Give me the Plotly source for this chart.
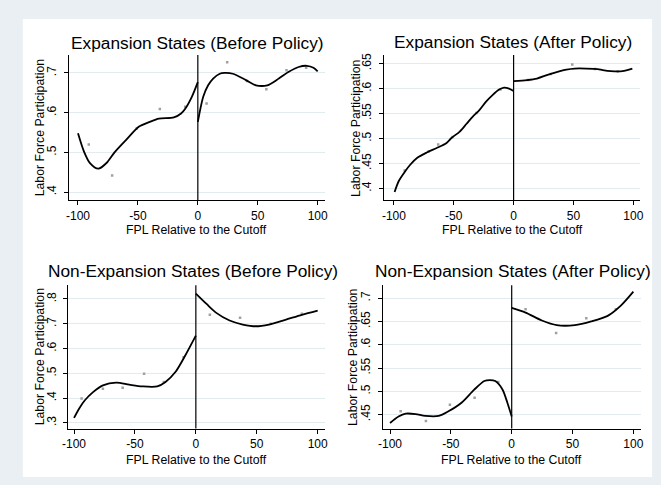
import plotly.graph_objects as go

# ---------------- data ----------------
# Panel 1: Expansion States (Before Policy)
p1_left_x = [-100, -95, -90, -83, -76, -69.5, -60, -49, -40, -32.5, -20, -14, -10.5, -5, 0]
p1_left_y = [0.548, 0.502, 0.473, 0.459, 0.474, 0.500, 0.531, 0.565, 0.577, 0.585, 0.588, 0.598, 0.610, 0.640, 0.677]
p1_right_x = [0, 4.5, 8.6, 12.8, 18.3, 22.4, 29.2, 40.2, 48.4, 58, 67.6, 75.9, 84.1, 91, 96.5, 100]
p1_right_y = [0.577, 0.640, 0.669, 0.686, 0.698, 0.700, 0.698, 0.682, 0.669, 0.669, 0.686, 0.703, 0.715, 0.718, 0.713, 0.704]
p1_dots_x = [-91, -71.5, -51, -31.7, -10.5, 7.3, 24.5, 41, 57.2, 74, 90.4]
p1_dots_y = [0.520, 0.442, 0.560, 0.609, 0.615, 0.623, 0.727, 0.680, 0.659, 0.707, 0.713]

# Panel 2: Expansion States (After Policy)
p2_left_x = [-99.4, -95.9, -90.4, -86.2, -80.7, -72.5, -64.2, -56, -51.9, -45, -39.5, -34.1, -28.6, -23, -17.6, -12.1, -8, -3.8, 0]
p2_left_y = [0.393, 0.415, 0.435, 0.448, 0.461, 0.472, 0.481, 0.491, 0.501, 0.514, 0.529, 0.544, 0.557, 0.574, 0.587, 0.598, 0.602, 0.600, 0.595]
p2_right_x = [0, 11.2, 19.5, 27.7, 36, 44.2, 51.1, 60.7, 70.3, 74.5, 81.3, 90.9, 99.2]
p2_right_y = [0.615, 0.617, 0.620, 0.627, 0.633, 0.638, 0.640, 0.640, 0.639, 0.637, 0.635, 0.635, 0.640]
p2_dots_x = [-91, -71, -63, -51, -31, -11, 12, 31, 49, 68, 87]
p2_dots_y = [0.436, 0.474, 0.488, 0.503, 0.551, 0.598, 0.617, 0.629, 0.648, 0.639, 0.634]

# Panel 3: Non-Expansion States (Before Policy)
p3_left_x = [-100, -95.5, -91.1, -84.4, -76.3, -65.4, -54.7, -43.9, -31.7, -24.9, -16.8, -8.7, 0]
p3_left_y = [0.320, 0.360, 0.391, 0.424, 0.451, 0.462, 0.454, 0.447, 0.447, 0.465, 0.505, 0.572, 0.652]
p3_right_x = [0, 8.8, 16.8, 27.7, 38.5, 49.2, 60.1, 73.5, 87, 100]
p3_right_y = [0.822, 0.780, 0.744, 0.713, 0.697, 0.690, 0.697, 0.716, 0.736, 0.753]
p3_dots_x = [-93.8, -76.3, -60.1, -42.5, -26.3, -10.1, 11.5, 36.3, 61.5, 87]
p3_dots_y = [0.398, 0.438, 0.442, 0.498, 0.465, 0.565, 0.736, 0.724, 0.700, 0.740]

# Panel 4: Non-Expansion States (After Policy)
p4_left_x = [-100, -93, -87, -79, -71, -60, -52, -41, -31, -22.5, -18, -13.5, -7.6, -3.5, 0]
p4_left_y = [0.432, 0.446, 0.452, 0.451, 0.447, 0.447, 0.457, 0.476, 0.503, 0.522, 0.524, 0.522, 0.504, 0.475, 0.446]
p4_right_x = [0, 11.4, 24.8, 37, 51.9, 65.4, 78.9, 89.7, 100]
p4_right_y = [0.679, 0.669, 0.652, 0.642, 0.642, 0.650, 0.662, 0.684, 0.714]
p4_dots_x = [-91.3, -70.5, -50.8, -30.5, -11, 11.4, 36.5, 61.3, 85.6]
p4_dots_y = [0.457, 0.436, 0.471, 0.486, 0.520, 0.676, 0.625, 0.657, 0.676]

titles = ["Expansion States (Before Policy)", "Expansion States (After Policy)",
          "Non-Expansion States (Before Policy)", "Non-Expansion States (After Policy)"]
x_tickvals = [-100, -50, 0, 50, 100]
x_ticktext = ["-100", "-50", "0", "50", "100"]
y_tickvals = [[0.4, 0.5, 0.6, 0.7],
              [0.4, 0.45, 0.5, 0.55, 0.6, 0.65],
              [0.3, 0.4, 0.5, 0.6, 0.7, 0.8],
              [0.45, 0.5, 0.55, 0.6, 0.65, 0.7]]
y_ticktext = [[".4", ".5", ".6", ".7"],
              [".4", ".45", ".5", ".55", ".6", ".65"],
              [".3", ".4", ".5", ".6", ".7", ".8"],
              [".45", ".5", ".55", ".6", ".65", ".7"]]
x_title = "FPL Relative to the Cutoff"
y_title = "Labor Force Participation"

# ---------------- layout geometry ----------------
W, H = 661, 485
FONT = "Liberation Sans, Arial, sans-serif"
# plot areas in pixels: (left, right, top, bottom)
boxes = [(64, 323, 53.3, 199.3), (383.3, 643, 53.3, 199.3),
         (63.3, 323, 284.3, 428.3), (381.7, 643.3, 284.3, 428.3)]
xranges = [[-107.4, 105.8], [-108.2, 105.8], [-104.6, 105.7], [-106.2, 105.9]]
yranges = [[0.379, 0.745], [0.376, 0.667], [0.277, 0.856], [0.42, 0.728]]
title_pos = [(194, 41), (514, 40), (190, 270), (514, 270)]
xtitle_y = [228.5, 228.5, 459.5, 459.5]
ytitle_x = [34, 355, 34, 352]

panels = [
    (p1_left_x, p1_left_y, p1_right_x, p1_right_y, p1_dots_x, p1_dots_y),
    (p2_left_x, p2_left_y, p2_right_x, p2_right_y, p2_dots_x, p2_dots_y),
    (p3_left_x, p3_left_y, p3_right_x, p3_right_y, p3_dots_x, p3_dots_y),
    (p4_left_x, p4_left_y, p4_right_x, p4_right_y, p4_dots_x, p4_dots_y),
]

fig = go.Figure()
layout = dict(
    width=W, height=H, autosize=False,
    margin=dict(l=0, r=0, t=0, b=0),
    paper_bgcolor="#E9EFF2", plot_bgcolor="rgba(0,0,0,0)",
    showlegend=False, font=dict(family=FONT, color="#000000", size=12),
)
shapes = [dict(type="rect", xref="paper", yref="paper", x0=17 / W, x1=655 / W,
               y0=1 - 477 / H, y1=1 - 17 / H, fillcolor="white", line=dict(width=0), layer="below")]
annotations = []

for i, (lx, ly, rx, ry, dx, dy) in enumerate(panels):
    n = "" if i == 0 else str(i + 1)
    xa, ya = "x" + n, "y" + n
    L, R, T, B = boxes[i]
    fig.add_trace(go.Scatter(x=dx, y=dy, mode="markers", xaxis=xa, yaxis=ya,
                             marker=dict(symbol="square", size=2.5, color="#A0A0A0")))
    for xs, ys in ((lx, ly), (rx, ry)):
        fig.add_trace(go.Scatter(x=xs, y=ys, mode="lines", xaxis=xa, yaxis=ya,
                                 line=dict(color="black", width=1.8, shape="spline", smoothing=0.8)))
    layout["xaxis" + n] = dict(
        domain=[L / W, R / W], range=xranges[i], anchor=ya,
        tickvals=x_tickvals, ticktext=x_ticktext, ticks="outside", ticklen=4,
        tickcolor="black", showline=True, linecolor="black", linewidth=1,
        showgrid=False, zeroline=False, tickfont=dict(size=12, family=FONT, color="black"),
    )
    layout["yaxis" + n] = dict(
        domain=[1 - B / H, 1 - T / H], range=yranges[i], anchor=xa,
        tickvals=y_tickvals[i], ticktext=y_ticktext[i], ticks="outside", ticklen=4,
        tickcolor="black", showline=True, linecolor="black", linewidth=1,
        showgrid=True, gridcolor="#E2EBEE", gridwidth=1, zeroline=False, tickangle=-90,
        ticklabelstandoff=3,
        tickfont=dict(size=12, family=FONT, color="black"),
    )
    shapes.append(dict(type="line", xref=xa, yref=ya + " domain", x0=0, x1=0, y0=0, y1=1,
                       line=dict(color="black", width=1.2)))
    tx, ty = title_pos[i]
    annotations.append(dict(text=titles[i], xref="paper", yref="paper", x=tx / W, y=1 - ty / H,
                            xanchor="center", yanchor="middle", showarrow=False,
                            font=dict(size=17.3, family=FONT, color="black")))
    annotations.append(dict(text=x_title, xref="paper", yref="paper", x=(L + R) / 2 / W,
                            y=1 - xtitle_y[i] / H, xanchor="center", yanchor="middle",
                            showarrow=False, font=dict(size=12.3, family=FONT, color="black")))
    annotations.append(dict(text=y_title, xref="paper", yref="paper", x=ytitle_x[i] / W,
                            y=1 - (T + B) / 2 / H, xanchor="center", yanchor="middle",
                            textangle=-90, showarrow=False,
                            font=dict(size=12.3, family=FONT, color="black")))

layout["shapes"] = shapes
layout["annotations"] = annotations
fig.update_layout(**layout)
fig.write_html("out.html", config={"displayModeBar": False},
               post_script="document.body.style.margin='0';document.body.style.overflow='hidden';")
